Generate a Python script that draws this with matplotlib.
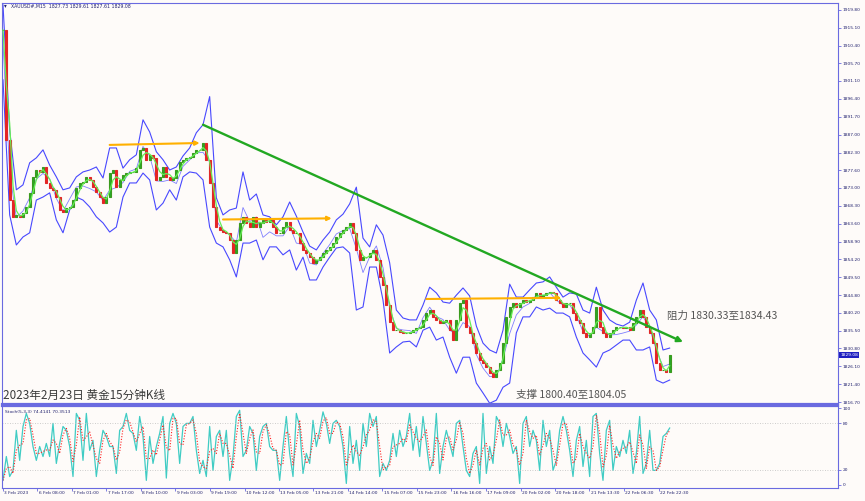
import numpy as np
import pandas as pd
import matplotlib
matplotlib.use("Agg")
import matplotlib.pyplot as plt
from matplotlib.transforms import blended_transform_factory

plt.rcParams['font.family'] = ['DejaVu Sans']

# XAUUSD M15, one close every ~6 bars
close = [
    1914.5, 1885.6, 1869.8, 1865.4, 1865.9, 1865.4, 1866.4, 1868.0, 1871.7, 1875.9,
    1877.7, 1877.2, 1878.5, 1874.3, 1873.0, 1872.5, 1870.6, 1867.2, 1866.7, 1867.7,
    1868.0, 1869.8, 1873.0, 1874.3, 1874.6, 1875.9, 1875.1, 1873.2, 1871.9, 1870.6,
    1869.0, 1870.6, 1876.9, 1877.7, 1873.2, 1875.1, 1876.4, 1876.9, 1877.2, 1877.2,
    1878.2, 1883.0, 1883.5, 1880.4, 1881.7, 1880.9, 1875.1, 1875.9, 1878.5, 1875.9,
    1875.1, 1875.6, 1877.7, 1879.8, 1880.4, 1880.9, 1881.1, 1882.2, 1883.0, 1883.0,
    1884.8, 1880.4, 1874.3, 1868.0, 1862.7, 1862.0, 1861.4, 1861.2, 1859.3, 1855.9,
    1859.3, 1863.8, 1865.4, 1863.8, 1862.7, 1865.4, 1862.7, 1863.8, 1864.6, 1864.0,
    1864.6, 1862.7, 1861.2, 1861.2, 1862.7, 1864.0, 1862.0, 1861.2, 1861.2, 1858.5,
    1856.7, 1855.9, 1854.8, 1853.3, 1854.0, 1854.8, 1855.9, 1856.7, 1857.5, 1858.5,
    1860.1, 1861.2, 1862.0, 1862.7, 1863.8, 1861.2, 1856.7, 1854.0, 1854.8, 1854.8,
    1855.9, 1856.7, 1854.0, 1849.6, 1847.5, 1842.2, 1837.7, 1835.6, 1835.6, 1835.1,
    1834.8, 1834.8, 1835.1, 1835.6, 1836.2, 1836.4, 1838.3, 1840.1, 1840.9, 1839.1,
    1838.3, 1837.5, 1837.7, 1838.3, 1835.6, 1833.0, 1838.3, 1842.7, 1843.5, 1836.4,
    1834.8, 1832.2, 1829.6, 1827.7, 1827.0, 1825.9, 1824.3, 1823.3, 1825.1, 1827.0,
    1832.2, 1839.1, 1841.7, 1842.7, 1841.7, 1842.7, 1843.5, 1843.0, 1843.5, 1844.3,
    1845.4, 1844.3, 1844.8, 1845.4, 1845.6, 1845.4, 1843.5, 1842.7, 1841.7, 1842.7,
    1842.7, 1840.1, 1838.3, 1837.5, 1834.8, 1833.8, 1834.8, 1836.4, 1841.7, 1836.4,
    1834.8, 1833.8, 1834.8, 1835.6, 1836.4, 1836.4, 1836.2, 1836.4, 1835.6, 1837.5,
    1839.1, 1840.9, 1839.1, 1836.4, 1834.8, 1832.2, 1827.0, 1825.1, 1825.1, 1824.6,
    1829.1,
]

# bollinger bands, read at every second sample
bb_upper = [
    1921.1, 1888.2, 1872.5, 1873.8, 1879.6, 1880.9, 1883.0, 1879.0, 1875.9, 1872.5,
    1873.0, 1875.9, 1877.2, 1877.7, 1878.5, 1875.6, 1883.5, 1883.5, 1878.2, 1880.4,
    1881.7, 1890.9, 1887.7, 1882.5, 1880.4, 1877.7, 1878.5, 1881.4, 1883.5, 1887.5,
    1889.6, 1897.0, 1870.4, 1865.9, 1867.2, 1867.7, 1877.2, 1869.8, 1871.4, 1865.9,
    1865.4, 1863.3, 1865.4, 1869.3, 1865.6, 1861.4, 1857.7, 1856.7, 1859.3, 1861.4,
    1864.6, 1866.1, 1868.8, 1873.2, 1859.8, 1857.5, 1863.3, 1860.6, 1853.3, 1840.9,
    1838.8, 1838.3, 1838.3, 1842.2, 1846.9, 1845.4, 1843.0, 1842.7, 1844.8, 1846.7,
    1844.6, 1836.7, 1832.2, 1830.4, 1829.6, 1835.6, 1847.7, 1844.3, 1844.3, 1846.2,
    1848.0, 1848.3, 1849.6, 1846.9, 1844.3, 1845.4, 1845.1, 1840.9, 1840.1, 1846.9,
    1840.9, 1838.3, 1837.2, 1836.7, 1837.7, 1843.5, 1848.0, 1840.9, 1838.3, 1830.4,
    1830.9,
]
bb_lower = [
    1901.4, 1865.9, 1858.0, 1860.1, 1861.2, 1869.8, 1870.6, 1871.7, 1864.6, 1861.2,
    1867.2, 1870.6, 1869.8, 1868.0, 1865.4, 1863.8, 1861.4, 1862.7, 1870.6, 1874.3,
    1874.3, 1876.9, 1875.1, 1867.2, 1869.0, 1872.5, 1869.8, 1875.9, 1877.2, 1876.9,
    1875.1, 1862.7, 1858.5, 1857.5, 1854.1, 1849.6, 1858.5, 1858.5, 1859.3, 1854.1,
    1857.5, 1857.5, 1855.4, 1856.7, 1851.4, 1854.8, 1848.8, 1848.8, 1852.2, 1854.8,
    1857.2, 1857.5, 1855.9, 1840.9, 1841.7, 1852.2, 1852.2, 1843.5, 1829.6, 1831.2,
    1832.5, 1832.7, 1831.2, 1835.6, 1836.4, 1833.0, 1833.8, 1828.5, 1824.3, 1828.5,
    1828.5, 1821.7, 1819.1, 1816.4, 1817.2, 1820.6, 1821.7, 1834.9, 1839.1, 1839.1,
    1841.7, 1840.9, 1841.4, 1840.1, 1840.1, 1839.1, 1833.8, 1829.6, 1827.8, 1825.9,
    1829.6, 1830.4, 1831.7, 1833.0, 1833.0, 1830.4, 1830.4, 1831.2, 1822.5, 1821.7,
    1822.5,
]

# stochastic %K, same grid as close
stoch_k = [
    6, 37, 11, 19, 71, 32, 76, 93, 80, 50,
    32, 50, 37, 54, 37, 80, 28, 54, 76, 71,
    50, 11, 93, 84, 32, 93, 45, 58, 11, 45,
    71, 63, 50, 50, 15, 71, 76, 93, 71, 67,
    45, 89, 63, 6, 63, 28, 50, 67, 89, 9,
    80, 93, 80, 28, 76, 80, 80, 89, 45, 15,
    32, 11, 76, 19, 63, 71, 37, 71, 6, 37,
    89, 97, 37, 45, 76, 67, 19, 63, 76, 80,
    50, 45, 45, 6, 50, 89, 41, 11, 93,
    76, 15, 41, 28, 84, 50, 71, 95, 80, 54,
    80, 84, 76, 50, 2, 76, 28, 58, 19, 80,
    50, 93, 76, 89, 11, 28, 19, 32, 67, 37,
    71, 50, 63, 93, 45, 76, 37, 89, 54, 19,
    32, 93, 15, 50, 71, 54, 37, 80, 84, 50,
    19, 11, 41, 50, 2, 93, 15, 50, 28, 89,
    80, 50, 80, 63, 41, 50, 2, 80, 89, 50,
    71, 58, 19, 84, 50, 71, 19, 32, 71, 89,
    71, 45, 11, 58,
    76, 24, 58, 11, 89, 93, 41, 6, 71, 84,
    19, 50, 37, 58, 41, 71, 15, 41, 89, 15,
    28, 71, 19, 19, 28, 63, 67, 74,
]

price_ticks = [1919.80, 1915.10, 1910.40, 1905.70, 1901.10, 1896.40, 1891.70, 1887.00,
               1882.30, 1877.60, 1873.00, 1868.30, 1863.60, 1858.90, 1854.20, 1849.50,
               1844.80, 1840.20, 1835.50, 1830.80, 1826.10, 1821.40, 1816.70]
time_labels = ["3 Feb 2023", "6 Feb 08:00", "7 Feb 01:00", "7 Feb 17:00", "8 Feb 10:00",
               "9 Feb 03:00", "9 Feb 19:00", "10 Feb 12:00", "13 Feb 05:00", "13 Feb 21:00",
               "14 Feb 14:00", "15 Feb 07:00", "15 Feb 23:00", "16 Feb 16:00", "17 Feb 09:00",
               "20 Feb 02:00", "20 Feb 18:00", "21 Feb 13:30", "22 Feb 06:30", "22 Feb 22:30"]

# drawn objects
trend_start = (60, 1889.6)
trend_end = (204, 1832.5)
flat_arrows = [((32, 1884.3), (59, 1884.8)),
               ((66, 1864.7), (98.6, 1865.0)),
               ((127, 1843.8), (167.5, 1844.1))]
last_price = 1829.08

bg = '#fefbf9'
frame = '#6a6ae0'
navy = '#22226e'
cjk = ['Noto Sans CJK SC', 'DejaVu Sans']

fig = plt.figure(figsize=(8.65, 5.01), dpi=100, facecolor=bg)
ax = fig.add_axes([2/865, 97/501, 836/865, 401/501], facecolor=bg)
ax2 = fig.add_axes([2/865, 13/501, 836/865, 82/501], facecolor=bg)

# candles
x = np.arange(len(close))
c = np.array(close)
o = np.r_[c[0], c[:-1]]
up = c >= o
ax.bar(x[up], (c - o)[up], bottom=o[up], width=0.55, color='#2aa82a',
       edgecolor='#3c9a1e', linewidth=0.8, zorder=3)
ax.bar(x[~up], (c - o)[~up], bottom=o[~up], width=0.55, color='#ee2222',
       edgecolor='#e02828', linewidth=0.8, zorder=3)

ma = pd.Series(close).rolling(3, min_periods=1).mean()
ax.plot(x, ma, color='#66ee55', lw=0.9, zorder=4)

xb = np.arange(0, len(close), 2)
up_b = np.array(bb_upper)
lo_b = np.array(bb_lower)
ax.plot(xb, up_b, color='#4848ff', lw=0.8, zorder=2)
ax.plot(xb, lo_b, color='#4848ff', lw=0.8, zorder=2)
ax.plot(xb, (up_b + lo_b) / 2, color='#6060ff', lw=0.6, alpha=0.8, zorder=2)

# trend line and horizontal arrows
ax.annotate('', xy=trend_end, xytext=trend_start, zorder=5,
            arrowprops=dict(arrowstyle='-|>', color='#22a822', lw=1.7,
                            mutation_scale=8, shrinkA=0, shrinkB=0))
for a, b in flat_arrows:
    ax.annotate('', xy=b, xytext=a, zorder=5,
                arrowprops=dict(arrowstyle='-|>', color='#ffb000', lw=1.5,
                                mutation_scale=6, shrinkA=0, shrinkB=0))

ax.text(153.9, 1818.5, '支撑 1800.40至1804.05', fontsize=7.6, color='#555555',
        family=cjk, va='center', ha='left')
ax.text(199.2, 1839.3, '阻力 1830.33至1834.43', fontsize=7.6, color='#555555',
        family=cjk, va='center', ha='left')
ax.text(0.0, 1818.5, '2023年2月23日 黄金15分钟K线', fontsize=8.4, color='#3a3a3a',
        family=cjk, va='center', ha='left')

ax.set_xlim(-0.3, 250.5)
ax.set_ylim(1816.2, 1921.6)
ax.yaxis.tick_right()
ax.set_yticks(price_ticks)
ax.set_yticklabels([f'{v:.2f}' for v in price_ticks])
ax.tick_params(axis='y', labelsize=3.2, labelcolor=navy, color=frame,
               length=2, width=0.6, pad=1.5)
ax.set_xticks([])
for s in ax.spines.values():
    s.set_color(frame)
    s.set_linewidth(0.8)
ax.spines['bottom'].set_linewidth(1.6)

tr = blended_transform_factory(ax.transAxes, ax.transData)
ax.text(1.003, last_price, f'{last_price:.2f}', transform=tr, fontsize=3.2,
        color='white', va='center', ha='left',
        bbox=dict(boxstyle='square,pad=0.25', fc='#2020c0', ec='none'))

fig.text(11/865, 1 - 6/501, 'XAUUSD#,M15  1827.73 1829.61 1827.61 1829.08',
         fontsize=3.3, color=navy, va='center')
fig.text(4/865, 1 - 6/501, '▾', fontsize=4, color=navy, va='center')

# stochastic panel
k = np.array(stoch_k, dtype=float)
d = pd.Series(stoch_k).rolling(2, min_periods=1).mean()
ax2.plot(x, k, color='#40ccc4', lw=0.9)
ax2.plot(x, d, color='#ff2222', lw=0.8, ls=(0, (1, 1.5)))
for lvl in (20, 80):
    ax2.axhline(lvl, color='#bdbdbd', lw=0.6, ls=(0, (1, 2)))
ax2.set_xlim(-0.3, 250.5)
ax2.set_ylim(-3.9, 102.6)
ax2.yaxis.tick_right()
ax2.set_yticks([0, 20, 80, 100])
ax2.tick_params(axis='y', labelsize=3.2, labelcolor=navy, color=frame,
                length=2, width=0.6, pad=1.5)
tick_pos = [i * 10.35 for i in range(len(time_labels))]
ax2.set_xticks(tick_pos)
ax2.set_xticklabels([])
ax2.tick_params(axis='x', color=frame, length=2, width=0.6)
for p, lab in zip(tick_pos, time_labels):
    ax2.text(p + 0.4, -0.06, lab, transform=blended_transform_factory(ax2.transData, ax2.transAxes),
             fontsize=3.2, color=navy, va='center', ha='left')
for s in ax2.spines.values():
    s.set_color(frame)
    s.set_linewidth(0.8)
ax2.spines['top'].set_linewidth(1.6)
ax2.text(0.004, 0.93, 'Stoch(5,3,3) 74.4141 70.3513', transform=ax2.transAxes,
         fontsize=3.2, color=navy, va='center')

fig.savefig('out.png', dpi=100, facecolor=bg)
